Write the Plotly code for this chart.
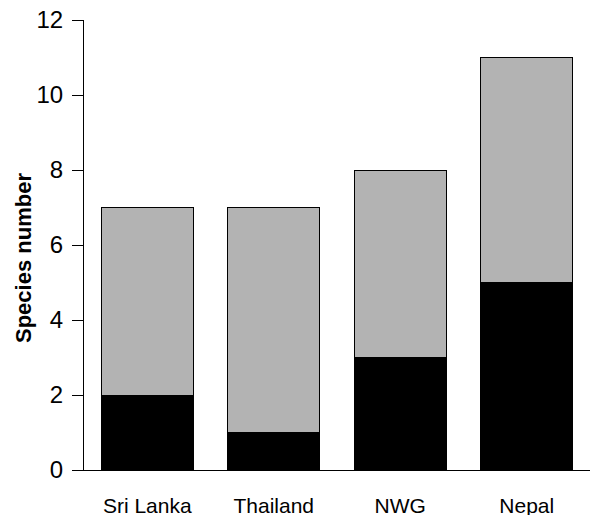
import plotly.graph_objects as go

categories = ["Sri Lanka", "Thailand", "NWG", "Nepal"]
lower_black = [2, 1, 3, 5]
upper_gray = [5, 6, 5, 6]
y_ticks = [0, 2, 4, 6, 8, 10, 12]

fig = go.Figure()
fig.add_trace(go.Bar(x=categories, y=lower_black, marker=dict(color="black", line=dict(color="black", width=1))))
fig.add_trace(go.Bar(x=categories, y=upper_gray, marker=dict(color="#b3b3b3", line=dict(color="black", width=1))))

# page has an 8px body margin, so the figure is shifted; margins compensate
fig.update_layout(
    barmode="stack",
    bargap=0.273,
    width=590, height=507,
    margin=dict(l=76, r=0, t=12, b=45),
    plot_bgcolor="white", paper_bgcolor="white",
    showlegend=False,
    font=dict(family="Liberation Sans, Arial, sans-serif", color="black"),
)
fig.update_xaxes(
    range=[-0.5, 3.563],
    showline=True, linecolor="black", linewidth=1,
    ticks="", tickfont=dict(size=21),
    ticklabelstandoff=17,
    ticklabeloverflow="allow",
    automargin=False,
    showgrid=False, zeroline=False,
)
fig.update_yaxes(
    range=[0, 12],
    tickvals=y_ticks,
    showline=True, linecolor="black", linewidth=1,
    ticks="outside", ticklen=11, tickcolor="black", tickwidth=1,
    tickfont=dict(size=24),
    ticklabelstandoff=4,
    ticklabeloverflow="allow",
    automargin=False,
    showgrid=False, zeroline=False,
)
fig.add_annotation(
    text="<b>Species number</b>", textangle=-90,
    xref="paper", yref="paper",
    x=(15.5 - 76) / 514, y=(462 - 250.5) / 450,
    xanchor="center", yanchor="middle",
    showarrow=False, font=dict(size=22),
)

fig.write_html("out.html")
